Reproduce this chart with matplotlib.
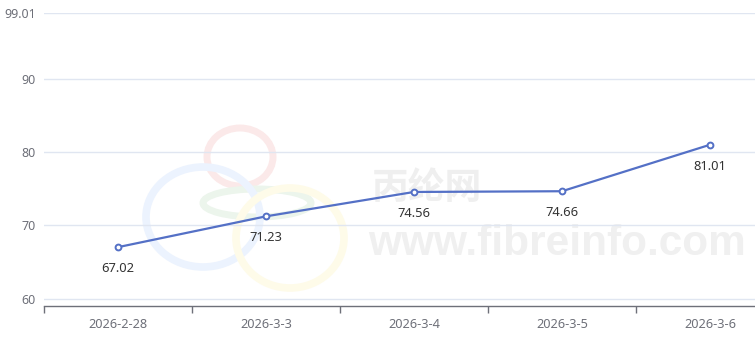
import matplotlib
matplotlib.use("Agg")
import matplotlib.pyplot as plt
from matplotlib.patches import Ellipse

categories = ["2026-2-28", "2026-3-3", "2026-3-4", "2026-3-5", "2026-3-6"]
values = [67.02, 71.23, 74.56, 74.66, 81.01]
yticks = [60, 70, 80, 90, 99.01]
ytick_labels = ["60", "70", "80", "90", "99.01"]

plt.rcParams['font.family'] = ['Noto Sans', 'Noto Sans CJK SC', 'DejaVu Sans']

W, H = 755, 340
fig = plt.figure(figsize=(W / 100, H / 100), dpi=100)
fig.patch.set_facecolor('white')

# watermark layer (background axes)
bg = fig.add_axes([0, 0, 1, 1], zorder=-5)
bg.set_xlim(0, W)
bg.set_ylim(H, 0)
bg.axis('off')

def ell(cx, cy, rx, ry, color, lw):
    bg.add_patch(Ellipse((cx, cy), 2 * rx, 2 * ry, fill=False,
                         edgecolor=color, linewidth=lw))

ell(240, 157, 33, 29, '#fbe9e9', 5)
ell(257, 203, 54, 14, '#ecf5ec', 5)
ell(203, 217, 57, 50, '#ecf3fe', 5.5)
ell(290, 238, 54, 50, '#fefbe9', 5.5)
bg.text(372, 188, "丙纶网", fontsize=26.5, fontweight='bold',
        family=['Noto Sans CJK SC'],
        color='#efefef', va='center', ha='left')
bg.text(368, 244, "www.fibreinfo.com", fontsize=30.5,
        fontweight='bold', family='Liberation Sans',
        color='#f0f0f0', va='center', ha='left')

left = 44 / W
right = 784 / W
top = 13
bottom = 306
ax = fig.add_axes([left, 1 - bottom / H, right - left, (bottom - top) / H], zorder=2)
ax.set_facecolor('none')

x = list(range(len(categories)))
ax.plot(x, values, color='#5470c6', linewidth=1.6, marker='o', markersize=4.2,
        markerfacecolor='white', markeredgecolor='#5470c6', markeredgewidth=1.4,
        zorder=3, clip_on=False)
for xi, v in zip(x, values):
    ax.annotate(f"{v:.2f}", (xi, v), xytext=(0, -15.5), textcoords='offset points',
                ha='center', va='center', fontsize=9.3, color='#333333')

ax.set_xlim(-0.5, len(categories) - 0.5)
ax.set_ylim(58.98, 99.01)
ax.set_yticks(yticks)
ax.set_yticklabels(ytick_labels)
ax.set_xticks(x)
ax.set_xticklabels(categories)
ax.set_xticks([i - 0.5 for i in range(len(categories) + 1)], minor=True)

ax.tick_params(axis='y', length=0, pad=6, labelsize=9, labelcolor='#6e7079')
ax.tick_params(axis='x', which='major', length=0, pad=9, labelsize=9.2, labelcolor='#6e7079')
ax.tick_params(axis='x', which='minor', length=5, width=1, color='#6e7079')

for s in ['top', 'right', 'left']:
    ax.spines[s].set_visible(False)
ax.spines['bottom'].set_color('#6e7079')
ax.spines['bottom'].set_linewidth(1)

for yv in yticks:
    ax.axhline(yv, color='#e0e6f1', linewidth=1, zorder=1)

fig.savefig('out.png', dpi=100)
